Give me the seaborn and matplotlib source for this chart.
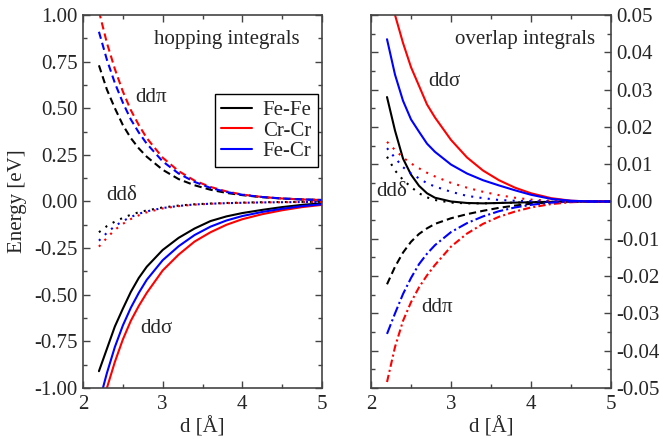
#!/usr/bin/env python3

import pandas as pd
import matplotlib
matplotlib.use("Agg")
import matplotlib.pyplot as plt
from matplotlib.lines import Line2D
from matplotlib.ticker import MultipleLocator, FuncFormatter
import seaborn as sns


# interatomic distance [A]
d = [2.2, 2.3, 2.4, 2.5, 2.6, 2.7, 2.8, 3.0, 3.2, 3.4, 3.6, 3.8, 4.0, 4.25, 4.5, 4.75, 5.0]

pairs = ["Fe-Fe", "Cr-Cr", "Fe-Cr"]
colors = {"Fe-Fe": "black", "Cr-Cr": "red", "Fe-Cr": "blue"}

# hopping integrals [eV]
hop_sigma_fefe = [-0.91, -0.79, -0.67, -0.575, -0.485, -0.41, -0.35, -0.26, -0.195, -0.145, -0.105, -0.08, -0.062, -0.045, -0.03, -0.018, -0.01]
hop_sigma_crcr = [-1.18, -1.0, -0.86, -0.74, -0.64, -0.56, -0.49, -0.37, -0.285, -0.215, -0.165, -0.125, -0.095, -0.068, -0.047, -0.03, -0.018]
hop_sigma_fecr = [-1.08, -0.92, -0.78, -0.665, -0.57, -0.49, -0.42, -0.315, -0.24, -0.18, -0.135, -0.102, -0.078, -0.056, -0.039, -0.025, -0.015]

hop_pi_fefe = [0.73, 0.60, 0.50, 0.41, 0.34, 0.285, 0.24, 0.17, 0.12, 0.087, 0.063, 0.046, 0.034, 0.023, 0.016, 0.011, 0.008]
hop_pi_crcr = [1.02, 0.85, 0.71, 0.59, 0.49, 0.41, 0.34, 0.235, 0.163, 0.112, 0.078, 0.054, 0.037, 0.024, 0.016, 0.011, 0.008]
hop_pi_fecr = [0.91, 0.76, 0.635, 0.53, 0.44, 0.37, 0.31, 0.215, 0.15, 0.105, 0.073, 0.051, 0.036, 0.024, 0.016, 0.011, 0.008]

hop_delta_fefe = [-0.165, -0.132, -0.108, -0.088, -0.071, -0.058, -0.048, -0.032, -0.022, -0.015, -0.011, -0.008, -0.006, -0.004, -0.003, -0.002, -0.002]
hop_delta_crcr = [-0.242, -0.195, -0.152, -0.12, -0.094, -0.074, -0.058, -0.037, -0.025, -0.017, -0.012, -0.009, -0.007, -0.005, -0.004, -0.003, -0.002]
hop_delta_fecr = [-0.21, -0.168, -0.132, -0.105, -0.083, -0.066, -0.053, -0.035, -0.024, -0.016, -0.012, -0.009, -0.007, -0.005, -0.004, -0.003, -0.002]

# overlap integrals
ovl_sigma_fefe = [0.028, 0.019, 0.0115, 0.0072, 0.0042, 0.0022, 0.001, 0.0, -0.0004, -0.0005, -0.0004, -0.0003, -0.0002, -0.0001, 0.0, 0.0, 0.0]
ovl_sigma_crcr = [0.058, 0.050, 0.0425, 0.036, 0.031, 0.026, 0.0225, 0.0165, 0.0118, 0.0083, 0.0057, 0.0037, 0.0022, 0.0009, 0.0002, 0.0, 0.0]
ovl_sigma_fecr = [0.0435, 0.034, 0.027, 0.022, 0.0187, 0.0155, 0.0133, 0.0099, 0.0075, 0.0057, 0.0043, 0.003, 0.0018, 0.0007, 0.0002, 0.0, 0.0]

ovl_pi_fefe = [-0.0222, -0.0175, -0.0137, -0.0108, -0.0087, -0.0072, -0.006, -0.0045, -0.0034, -0.0025, -0.0017, -0.0011, -0.0006, -0.0002, 0.0, 0.0, 0.0]
ovl_pi_crcr = [-0.0484, -0.039, -0.032, -0.027, -0.023, -0.0198, -0.017, -0.0121, -0.0086, -0.006, -0.0041, -0.0027, -0.0016, -0.0007, -0.0002, 0.0, 0.0]
ovl_pi_fecr = [-0.0355, -0.030, -0.0248, -0.0205, -0.0168, -0.014, -0.0117, -0.0082, -0.0058, -0.004, -0.0026, -0.0016, -0.0009, -0.0003, 0.0, 0.0, 0.0]

ovl_delta_fefe = [0.012, 0.0083, 0.0058, 0.0039, 0.0022, 0.0011, 0.0004, -0.0003, -0.0005, -0.0005, -0.0004, -0.0003, -0.0002, -0.0001, 0.0, 0.0, 0.0]
ovl_delta_crcr = [0.016, 0.0138, 0.0118, 0.0102, 0.0089, 0.0077, 0.0067, 0.005, 0.0037, 0.0026, 0.0017, 0.001, 0.0005, 0.0002, 0.0, 0.0, 0.0]
ovl_delta_fecr = [0.0143, 0.0117, 0.0092, 0.0075, 0.0062, 0.0049, 0.004, 0.0026, 0.0015, 0.0009, 0.0004, 0.0002, 0.0001, 0.0, 0.0, 0.0, 0.0]


sns.set_style("ticks")
plt.rcParams["font.family"] = ["Liberation Serif", "DejaVu Serif"]
plt.rcParams["font.size"] = 15

dashed = (0, (3.5, 2.0))
dotted = (0, (1.0, 3.0))
dashdot_blue = (0, (5.0, 1.5, 1.0, 1.5))
dashdot_red = (0, (3.5, 1.5, 1.0, 1.5))
frame_color = "#444444"


def draw(ax, values, pair, style):
    frame = pd.DataFrame({"d": d, "E": values})
    sns.lineplot(data=frame, x="d", y="E", color=colors[pair], linestyle=style,
                 linewidth=1.5, ax=ax)


def two_decimals(value, pos):
    return f"{round(value, 2) + 0.0:.2f}"


def style_axes(ax, major, minor):
    ax.set_xlim(2, 5)
    ax.xaxis.set_major_locator(MultipleLocator(1))
    ax.xaxis.set_minor_locator(MultipleLocator(0.5))
    ax.yaxis.set_major_locator(MultipleLocator(major))
    ax.yaxis.set_minor_locator(MultipleLocator(minor))
    ax.yaxis.set_major_formatter(FuncFormatter(two_decimals))
    ax.tick_params(which="both", direction="in", top=True, right=True,
                   color=frame_color, labelsize=15)
    ax.tick_params(which="major", length=5, width=1)
    ax.tick_params(which="minor", length=3, width=1)
    ax.tick_params(axis="x", pad=5)
    ax.tick_params(axis="y", pad=4)
    for spine in ax.spines.values():
        spine.set_color(frame_color)
        spine.set_linewidth(1.2)
    ax.set_xlabel("d [Å]", fontsize=15, labelpad=2)


fig = plt.figure(figsize=(6.63, 4.42), dpi=100)
ax1 = fig.add_axes([0.1252, 0.1222, 0.3605, 0.8439])
ax2 = fig.add_axes([0.5596, 0.1222, 0.362, 0.8439])

# left: hopping integrals
hop_sigma = dict(zip(pairs, [hop_sigma_fefe, hop_sigma_crcr, hop_sigma_fecr]))
hop_pi = dict(zip(pairs, [hop_pi_fefe, hop_pi_crcr, hop_pi_fecr]))
hop_delta = dict(zip(pairs, [hop_delta_fefe, hop_delta_crcr, hop_delta_fecr]))
for pair in pairs:
    draw(ax1, hop_sigma[pair], pair, "-")
    draw(ax1, hop_pi[pair], pair, dashed)
    draw(ax1, hop_delta[pair], pair, dotted)

ax1.set_ylim(-1, 1)
style_axes(ax1, 0.25, 0.125)
ax1.set_ylabel("Energy [eV]", fontsize=15)
ax1.yaxis.set_label_coords(-0.235, 0.5)
ax1.text(3.8, 0.87, "hopping integrals", ha="center", va="center", fontsize=15)
ax1.text(2.86, 0.56, "ddπ", ha="center", va="center", fontsize=15)
ax1.text(2.49, 0.03, "ddδ", ha="center", va="center", fontsize=15)
ax1.text(2.92, -0.68, "ddσ", ha="center", va="center", fontsize=15)

handles = [Line2D([], [], color=colors[p], lw=1.5) for p in pairs]
leg = ax1.legend(handles, pairs, loc="upper left", bbox_to_anchor=(0.552, 0.788),
                 borderaxespad=0, fontsize=15, handlelength=1.5, handletextpad=0.5,
                 labelspacing=0.05, borderpad=0.3, fancybox=False, framealpha=1)
leg.get_frame().set_edgecolor("black")
leg.get_frame().set_linewidth(1.0)

# right: overlap integrals
ovl_sigma = dict(zip(pairs, [ovl_sigma_fefe, ovl_sigma_crcr, ovl_sigma_fecr]))
ovl_pi = dict(zip(pairs, [ovl_pi_fefe, ovl_pi_crcr, ovl_pi_fecr]))
ovl_delta = dict(zip(pairs, [ovl_delta_fefe, ovl_delta_crcr, ovl_delta_fecr]))
pi_styles = {"Fe-Fe": dashed, "Cr-Cr": dashdot_red, "Fe-Cr": dashdot_blue}
for pair in pairs:
    draw(ax2, ovl_sigma[pair], pair, "-")
    draw(ax2, ovl_pi[pair], pair, pi_styles[pair])
    draw(ax2, ovl_delta[pair], pair, dotted)

ax2.set_ylim(-0.05, 0.05)
style_axes(ax2, 0.01, 0.005)
ax2.tick_params(labelleft=False, labelright=True)
ax2.set_ylabel("")
ax2.text(3.93, 0.0433, "overlap integrals", ha="center", va="center", fontsize=15)
ax2.text(2.92, 0.0323, "ddσ", ha="center", va="center", fontsize=15)
ax2.text(2.26, 0.0026, "ddδ", ha="center", va="center", fontsize=15)
ax2.text(2.82, -0.0284, "ddπ", ha="center", va="center", fontsize=15)

fig.savefig("out.png", dpi=100)
plt.close(fig)
